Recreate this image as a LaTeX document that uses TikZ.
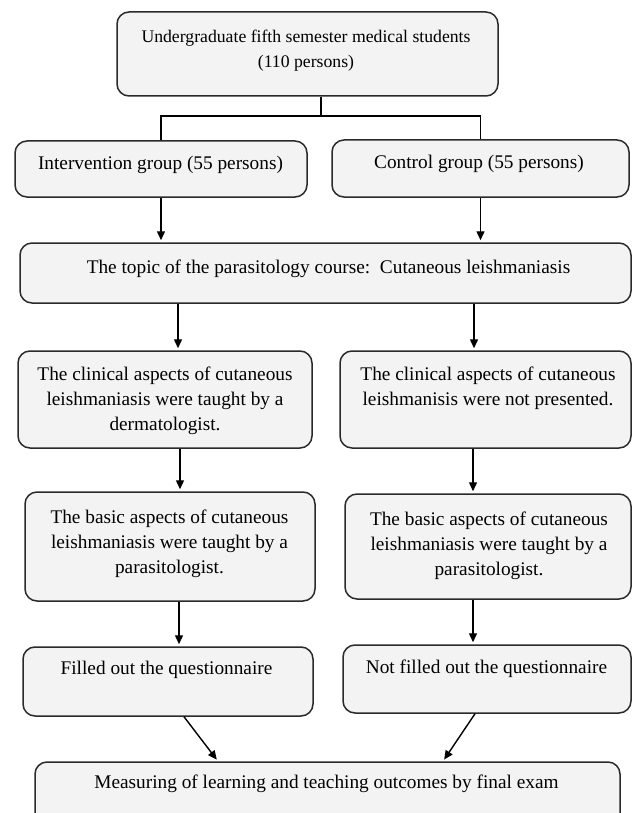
\documentclass[tikz,border=0pt]{standalone}
\usepackage{fontspec}
\setmainfont{Liberation Serif}
\usetikzlibrary{arrows.meta}
\definecolor{boxfill}{HTML}{F3F3F3}
\definecolor{edge}{HTML}{2A2A2A}
\tikzset{
 box/.style={draw=edge, line width=1.5pt, fill=boxfill, rounded corners=12pt, inner sep=0pt},
 txt/.style={anchor=north, align=center, inner sep=0pt, font=\fontsize{19.3}{25}\selectfont},
 toptxt/.style={anchor=north, align=center, inner sep=0pt, font=\fontsize{17.7}{25}\selectfont},
 arr/.style={draw=black, line width=1.4pt, -{Triangle[width=8pt,length=9pt]}, shorten >=2pt},
 conn/.style={draw=black, line width=1.4pt},
}
\begin{document}
\begin{tikzpicture}[x=1pt,y=-1pt]
\useasboundingbox (0,0) rectangle (634,813);
\clip (0,0) rectangle (634,813);
\fill[white] (0,0) rectangle (634,813);
% boxes
\node[box, minimum width=381pt, minimum height=84pt] (top) at (307.5,54) {};
\node[box, minimum width=292pt, minimum height=56pt] (int) at (161,169) {};
\node[box, minimum width=297pt, minimum height=57pt] (ctl) at (480.5,168.5) {};
\node[box, minimum width=611pt, minimum height=60pt] (topic) at (325.5,273) {};
\node[box, minimum width=294pt, minimum height=97pt] (clinL) at (165,399.5) {};
\node[box, minimum width=291pt, minimum height=97pt] (clinR) at (485.5,399.5) {};
\node[box, minimum width=290pt, minimum height=109pt] (basL) at (170,546.5) {};
\node[box, minimum width=286pt, minimum height=105pt] (basR) at (488,546.5) {};
\node[box, minimum width=290pt, minimum height=69pt] (fillL) at (168,681.5) {};
\node[box, minimum width=288pt, minimum height=68pt] (fillR) at (487,679) {};
\node[box, minimum width=585pt, minimum height=68pt] (final) at (327.5,796) {};
% texts
\node[toptxt] (ttop) at (306,30) {Undergraduate fifth semester medical students\\(110 persons)};
\node[txt] (tint) at (160.5,155.5) {Intervention group (55 persons)};
\node[txt] (tctl) at (479,154.5) {Control group (55 persons)};
\node[txt] (ttopic) at (328.5,259.5) {The topic of the parasitology course:\ \ Cutaneous leishmaniasis};
\node[txt] (tclinL) at (165,366.5) {The clinical aspects of cutaneous\\leishmaniasis were taught by a\\dermatologist.};
\node[txt] (tclinR) at (488,366.5) {The clinical aspects of cutaneous\\leishmanisis were not presented.};
\node[txt] (tbasL) at (169.5,509.5) {The basic aspects of cutaneous\\leishmaniasis were taught by a\\parasitologist.};
\node[txt] (tbasR) at (489,511.5) {The basic aspects of cutaneous\\leishmaniasis were taught by a\\parasitologist.};
\node[txt] (tfillL) at (166.5,660.5) {Filled out the questionnaire};
\node[txt] (tfillR) at (486.5,659.5) {Not filled out the questionnaire};
\node[txt] (tfinal) at (326.5,774.5) {Measuring of learning and teaching outcomes by final exam};
% helper coordinates
\coordinate (split) at (321,116);
\coordinate (xa) at (178,0);
\coordinate (xb) at (474,0);
\coordinate (xc) at (180,0);
\coordinate (xd) at (473,0);
\coordinate (xe) at (179,0);
\coordinate (d1) at (184,0);
\coordinate (d2) at (218,0);
\coordinate (d3) at (475,0);
\coordinate (d4) at (443,0);
% connectors
\draw[conn] (top.south -| split) -- (split);
\draw[conn] (int.north) |- (split) -| (ctl.north);
\draw[arr] (int.south) -- (int.south |- topic.north);
\draw[arr] (ctl.south) -- (ctl.south |- topic.north);
\draw[arr] (topic.south -| xa) -- (clinL.north -| xa);
\draw[arr] (topic.south -| xb) -- (clinR.north -| xb);
\draw[arr] (clinL.south -| xc) -- (basL.north -| xc);
\draw[arr] (clinR.south -| xd) -- (basR.north -| xd);
\draw[arr] (basL.south -| xe) -- (fillL.north -| xe);
\draw[arr] (basR.south -| xd) -- (fillR.north -| xd);
\draw[arr] (fillL.south -| d1) -- (final.north -| d2);
\draw[arr] (fillR.south -| d3) -- (final.north -| d4);
\end{tikzpicture}
\end{document}
